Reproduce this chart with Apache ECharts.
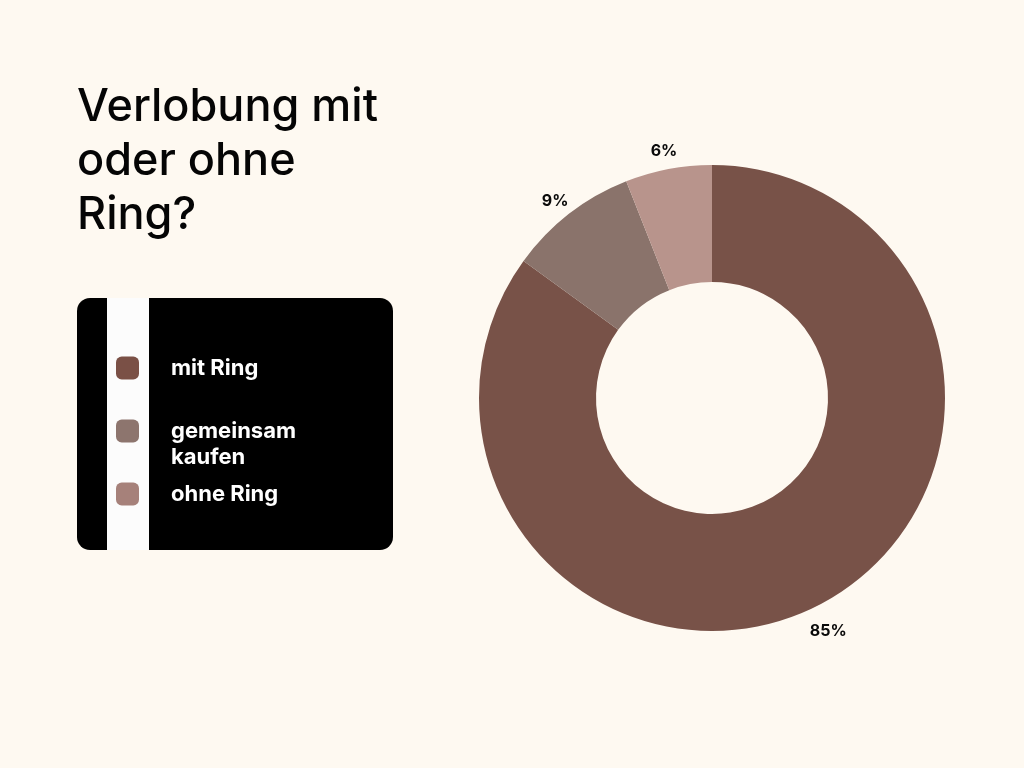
<!DOCTYPE html>
<html>
<head>
<meta charset="utf-8">
<script src="https://cdn.jsdelivr.net/npm/echarts@6/dist/echarts.min.js"></script>
<style>
  html, body { margin: 0; padding: 0; background: #fef9f1; }
  #chart { width: 1024px; height: 768px; }
</style>
</head>
<body>
<div id="chart"></div>
<script>
// Verlobung: mit oder ohne Ring?
const categories = ['mit Ring', 'gemeinsam kaufen', 'ohne Ring'];
const shares = [85, 9, 6];
const sliceColors = ['#785248', '#8a736b', '#b8948c'];
const legendColors = ['#7a5046', '#8d756e', '#a6817a'];
const legendLabels = { 'gemeinsam kaufen': '\ngemeinsam\nkaufen' };

const FONT = 'Inter, "Noto Sans", sans-serif';

const sliceData = categories.map((name, i) => ({
  name: name,
  value: shares[i],
  itemStyle: { color: sliceColors[i] }
}));

const labelData = categories.map((name, i) => ({ name: name, value: shares[i] }));

const chart = echarts.init(document.getElementById('chart'), null, { renderer: 'canvas' });

chart.setOption({
  backgroundColor: '#fef9f1',
  animation: false,
  title: {
    text: 'Verlobung mit\noder ohne\nRing?',
    left: 77,
    top: 80,
    padding: 0,
    textStyle: {
      fontFamily: FONT,
      fontSize: 45,
      fontWeight: 500,
      lineHeight: 54,
      color: '#050505'
    }
  },
  graphic: [
    {
      type: 'rect',
      z: -10,
      shape: { x: 77, y: 298, width: 316, height: 252, r: 13 },
      style: { fill: '#000000' }
    },
    {
      type: 'rect',
      z: -9,
      shape: { x: 107, y: 298, width: 42, height: 252 },
      style: { fill: '#fcfcfc' }
    }
  ],
  legend: {
    orient: 'vertical',
    left: 116,
    top: 355,
    padding: 0,
    itemGap: 11,
    itemWidth: 23,
    itemHeight: 23,
    icon: 'roundRect',
    selectedMode: false,
    data: categories.map((name, i) => ({ name: name, itemStyle: { color: legendColors[i] } })),
    formatter: (name) => legendLabels[name] || name,
    textStyle: {
      fontFamily: FONT,
      fontSize: 22,
      fontWeight: 700,
      lineHeight: 26,
      color: '#ffffff',
      padding: [0, 0, 0, 27]
    }
  },
  series: [
    {
      name: 'Anteil',
      type: 'pie',
      center: [712, 398],
      radius: [116, 233],
      startAngle: 90,
      clockwise: true,
      label: { show: false },
      labelLine: { show: false },
      data: sliceData
    },
    {
      // percentage labels sitting just outside the ring
      name: 'Prozent',
      type: 'pie',
      center: [712, 403],
      radius: [238, 268],
      startAngle: 90,
      clockwise: true,
      silent: true,
      itemStyle: { color: 'rgba(0,0,0,0)' },
      label: {
        show: true,
        position: 'inside',
        formatter: (p) => p.value + '%',
        fontFamily: FONT,
        fontSize: 16,
        fontWeight: 700,
        color: '#0a0a0a'
      },
      labelLine: { show: false },
      data: labelData
    }
  ]
});
</script>
</body>
</html>
